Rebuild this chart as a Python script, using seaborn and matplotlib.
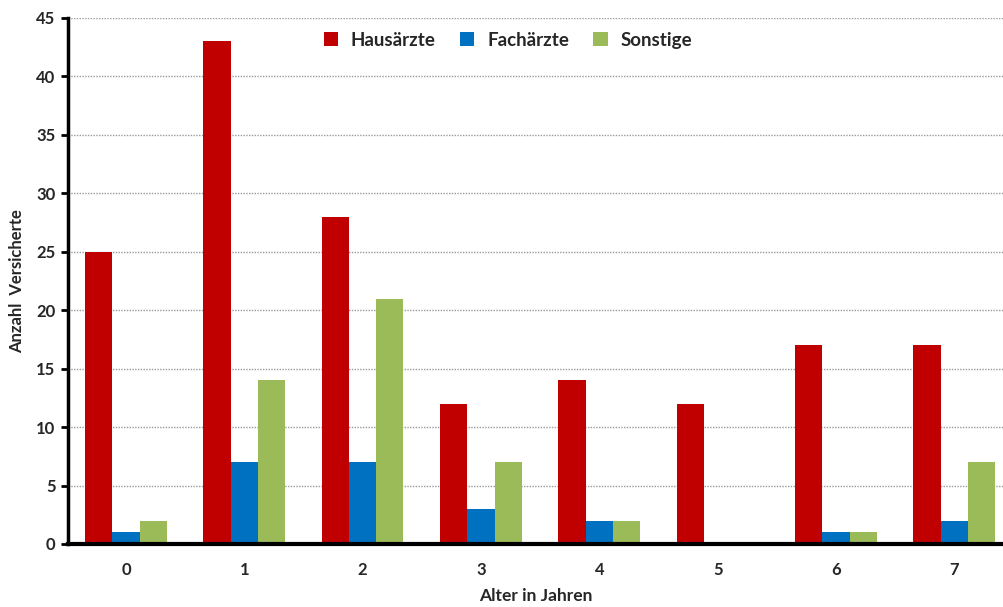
import matplotlib
matplotlib.use("Agg")
import matplotlib.pyplot as plt
import seaborn as sns
import pandas as pd
from matplotlib.patches import Patch

ages = ["0", "1", "2", "3", "4", "5", "6", "7"]
series_names = ["Hausärzte", "Fachärzte", "Sonstige"]
hausaerzte = [25, 43, 28, 12, 14, 12, 17, 17]
fachaerzte = [1, 7, 7, 3, 2, 0, 1, 2]
sonstige = [2, 14, 21, 7, 2, 0, 1, 7]
colors = ["#C00000", "#0070C0", "#9BBB59"]
y_ticks = [0, 5, 10, 15, 20, 25, 30, 35, 40, 45]

rows = []
for name, vals in zip(series_names, [hausaerzte, fachaerzte, sonstige]):
    for a, v in zip(ages, vals):
        rows.append({"Alter": a, "Gruppe": name, "Anzahl": v})
df = pd.DataFrame(rows)

sns.set_theme(style="white")
plt.rcParams["font.family"] = ["Lato", "DejaVu Sans"]
W = "bold"

fig = plt.figure(figsize=(10.04, 6.07), dpi=100)
ax = fig.add_axes([68 / 1004, 63 / 607, (1004 - 68) / 1004, (544 - 18) / 607])

sns.barplot(data=df, x="Alter", y="Anzahl", hue="Gruppe", order=ages,
            hue_order=series_names, palette=colors, width=0.69, gap=0,
            saturation=1, edgecolor="none", linewidth=0, ax=ax, legend=False,
            zorder=3)

ax.set_ylim(0, 45)
ax.set_xlim(-0.49, 7.42)
ax.set_yticks(y_ticks)
ax.set_yticklabels([str(t) for t in y_ticks], fontsize=12, fontweight=W)
ax.tick_params(axis="y", direction="out", length=5, width=2, color="black", pad=4, left=True)
ax.tick_params(axis="x", length=0, pad=13)
for lbl in ax.get_xticklabels():
    lbl.set_fontweight(W)
    lbl.set_fontsize(12)

ax.yaxis.grid(True, linestyle=(0, (1, 1)), color="#9a9a9a", linewidth=1, zorder=0)
ax.set_axisbelow(True)

for side in ["top", "right"]:
    ax.spines[side].set_visible(False)
ax.spines["left"].set_linewidth(2.5)
ax.spines["left"].set_color("black")
ax.spines["bottom"].set_linewidth(3)
ax.spines["bottom"].set_color("black")
ax.spines["bottom"].set_zorder(5)

ax.set_xlabel("Alter in Jahren", fontsize=12.5, fontweight=W, labelpad=7)
ax.set_ylabel("Anzahl  Versicherte", fontsize=12, fontweight=W, labelpad=8)

handles = [Patch(facecolor=c, edgecolor="none") for c in colors]
leg = ax.legend(handles, series_names, loc="upper center", bbox_to_anchor=(0.47, 1.006),
                ncol=3, frameon=False, handlelength=0.75, handleheight=0.75,
                handletextpad=0.7, columnspacing=1.3,
                prop={"weight": W, "size": 13.5})

fig.savefig("out.png", dpi=100)
